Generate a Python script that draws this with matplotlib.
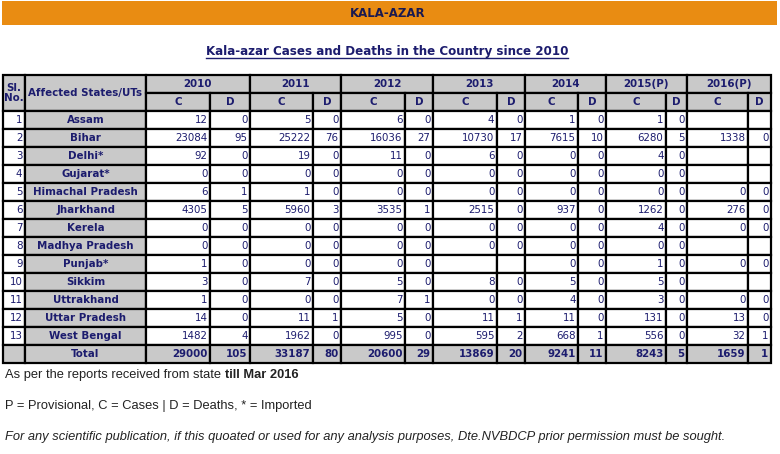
import matplotlib
matplotlib.use("Agg")
import matplotlib.pyplot as plt
from matplotlib.patches import Rectangle

# ---------------- data ----------------
states = ["Assam", "Bihar", "Delhi*", "Gujarat*", "Himachal Pradesh", "Jharkhand",
          "Kerela", "Madhya Pradesh", "Punjab*", "Sikkim", "Uttrakhand",
          "Uttar Pradesh", "West Bengal"]
years = ["2010", "2011", "2012", "2013", "2014", "2015(P)", "2016(P)"]
N = None
cases_2010 = [12, 23084, 92, 0, 6, 4305, 0, 0, 1, 3, 1, 14, 1482]
deaths_2010 = [0, 95, 0, 0, 1, 5, 0, 0, 0, 0, 0, 0, 4]
cases_2011 = [5, 25222, 19, 0, 1, 5960, 0, 0, 0, 7, 0, 11, 1962]
deaths_2011 = [0, 76, 0, 0, 0, 3, 0, 0, 0, 0, 0, 1, 0]
cases_2012 = [6, 16036, 11, 0, 0, 3535, 0, 0, 0, 5, 7, 5, 995]
deaths_2012 = [0, 27, 0, 0, 0, 1, 0, 0, 0, 0, 1, 0, 0]
cases_2013 = [4, 10730, 6, 0, 0, 2515, 0, 0, N, 8, 0, 11, 595]
deaths_2013 = [0, 17, 0, 0, 0, 0, 0, 0, N, 0, 0, 1, 2]
cases_2014 = [1, 7615, 0, 0, 0, 937, 0, 0, 0, 5, 4, 11, 668]
deaths_2014 = [0, 10, 0, 0, 0, 0, 0, 0, 0, 0, 0, 0, 1]
cases_2015 = [1, 6280, 4, 0, 0, 1262, 4, 0, 1, 5, 3, 131, 556]
deaths_2015 = [0, 5, 0, 0, 0, 0, 0, 0, 0, 0, 0, 0, 0]
cases_2016 = [N, 1338, N, N, 0, 276, 0, N, 0, N, 0, 13, 32]
deaths_2016 = [N, 0, N, N, 0, 0, 0, N, 0, N, 0, 0, 1]
total_cases = [29000, 33187, 20600, 13869, 9241, 8243, 1659]
total_deaths = [105, 80, 29, 20, 11, 5, 1]

banner = "KALA-AZAR"
title = "Kala-azar Cases and Deaths in the Country since 2010"
note1 = "As per the reports received from state "
note1_bold = "till Mar 2016"
note2 = "P = Provisional, C = Cases | D = Deaths, * = Imported"
note3 = ("For any scientific publication, if this quoated or used for any analysis "
         "purposes, Dte.NVBDCP prior permission must be sought.")

cases = [cases_2010, cases_2011, cases_2012, cases_2013, cases_2014, cases_2015, cases_2016]
deaths = [deaths_2010, deaths_2011, deaths_2012, deaths_2013, deaths_2014, deaths_2015, deaths_2016]

# ---------------- layout ----------------
W, H = 780, 454
col_edges = [3, 25, 146, 210, 250, 313, 341, 405, 433, 497, 525, 578, 606, 666, 687, 748, 771]
top = 75
hdr_h = 18
row_h = 18
NAVY = "#1c1c6e"
GRAY = "#c9c9c9"
ORANGE = "#e98c12"
LW = 1.6
FS = 7.4

fig = plt.figure(figsize=(W / 100, H / 100), dpi=100)
ax = fig.add_axes([0, 0, 1, 1])
ax.set_xlim(0, W)
ax.set_ylim(H, 0)
ax.axis("off")

# banner
ax.add_patch(Rectangle((2, 1), 775, 24, facecolor=ORANGE, edgecolor="none"))
ax.text(388, 13.5, banner, ha="center", va="center", fontsize=8.5,
        fontweight="bold", color="#1a1a50", family="DejaVu Sans")

# title
t = ax.text(387, 51, title, ha="center", va="center", fontsize=8.6,
            fontweight="bold", color=NAVY, family="DejaVu Sans")
fig.canvas.draw()
bb = t.get_window_extent()
inv = ax.transData.inverted()
(x0, _), (x1, _) = inv.transform([[bb.x0, bb.y0], [bb.x1, bb.y0]])
ax.plot([x0, x1], [57.5, 57.5], color=NAVY, lw=1.0)


def cell(x0, x1, y0, y1, fc):
    ax.add_patch(Rectangle((x0, y0), x1 - x0, y1 - y0, facecolor=fc,
                           edgecolor="black", linewidth=LW, zorder=2))


def txt(x, y, s, ha="center", bold=False):
    ax.text(x, y, s, ha=ha, va="center", fontsize=FS, color=NAVY,
            fontweight="bold" if bold else "normal", zorder=3,
            family="DejaVu Sans")


# header
y0, y1, y2 = top, top + hdr_h, top + 2 * hdr_h
cell(col_edges[0], col_edges[1], y0, y2, GRAY)
ax.text((col_edges[0] + col_edges[1]) / 2, (y0 + y2) / 2, "Sl.\nNo.", ha="center",
        va="center", fontsize=FS, color=NAVY, fontweight="bold", zorder=3,
        linespacing=1.05)
cell(col_edges[1], col_edges[2], y0, y2, GRAY)
txt((col_edges[1] + col_edges[2]) / 2, (y0 + y2) / 2, "Affected States/UTs", bold=True)
for i, yr in enumerate(years):
    a, b, c = col_edges[2 + 2 * i], col_edges[3 + 2 * i], col_edges[4 + 2 * i]
    cell(a, c, y0, y1, GRAY)
    txt((a + c) / 2, (y0 + y1) / 2, yr, bold=True)
    cell(a, b, y1, y2, GRAY)
    txt((a + b) / 2, (y1 + y2) / 2, "C", bold=True)
    cell(b, c, y1, y2, GRAY)
    txt((b + c) / 2, (y1 + y2) / 2, "D", bold=True)


def fmt(v):
    return "" if v is None else str(v)


# data rows
for r, st in enumerate(states):
    ya = y2 + r * row_h
    yb = ya + row_h
    yc = (ya + yb) / 2
    cell(col_edges[0], col_edges[1], ya, yb, "white")
    txt(col_edges[1] - 2.5, yc, str(r + 1), ha="right")
    cell(col_edges[1], col_edges[2], ya, yb, GRAY)
    txt((col_edges[1] + col_edges[2]) / 2, yc, st, bold=True)
    for i in range(len(years)):
        a, b, c = col_edges[2 + 2 * i], col_edges[3 + 2 * i], col_edges[4 + 2 * i]
        cell(a, b, ya, yb, "white")
        txt(b - 2.5, yc, fmt(cases[i][r]), ha="right")
        cell(b, c, ya, yb, "white")
        txt(c - 2.5, yc, fmt(deaths[i][r]), ha="right")

# total row
ya = y2 + len(states) * row_h
yb = ya + row_h
yc = (ya + yb) / 2
cell(col_edges[0], col_edges[1], ya, yb, GRAY)
cell(col_edges[1], col_edges[2], ya, yb, GRAY)
txt((col_edges[1] + col_edges[2]) / 2, yc, "Total", bold=True)
for i in range(len(years)):
    a, b, c = col_edges[2 + 2 * i], col_edges[3 + 2 * i], col_edges[4 + 2 * i]
    cell(a, b, ya, yb, GRAY)
    txt(b - 2.5, yc, str(total_cases[i]), ha="right", bold=True)
    cell(b, c, ya, yb, GRAY)
    txt(c - 2.5, yc, str(total_deaths[i]), ha="right", bold=True)

# notes
FN = "Liberation Sans"
NFS = 9.3
t1 = ax.text(5, 375, note1, ha="left", va="center", fontsize=NFS, color="#222222",
             family=FN)
fig.canvas.draw()
bb = t1.get_window_extent()
xe = inv.transform([[bb.x1, bb.y0]])[0][0]
ax.text(xe, 375, note1_bold, ha="left", va="center", fontsize=NFS, color="#222222",
        family=FN, fontweight="bold")
ax.text(5, 406, note2, ha="left", va="center", fontsize=NFS, color="#222222", family=FN)
ax.text(5, 437, note3, ha="left", va="center", fontsize=NFS, color="#222222",
        family=FN, style="italic")

fig.savefig("out.png", dpi=100)
